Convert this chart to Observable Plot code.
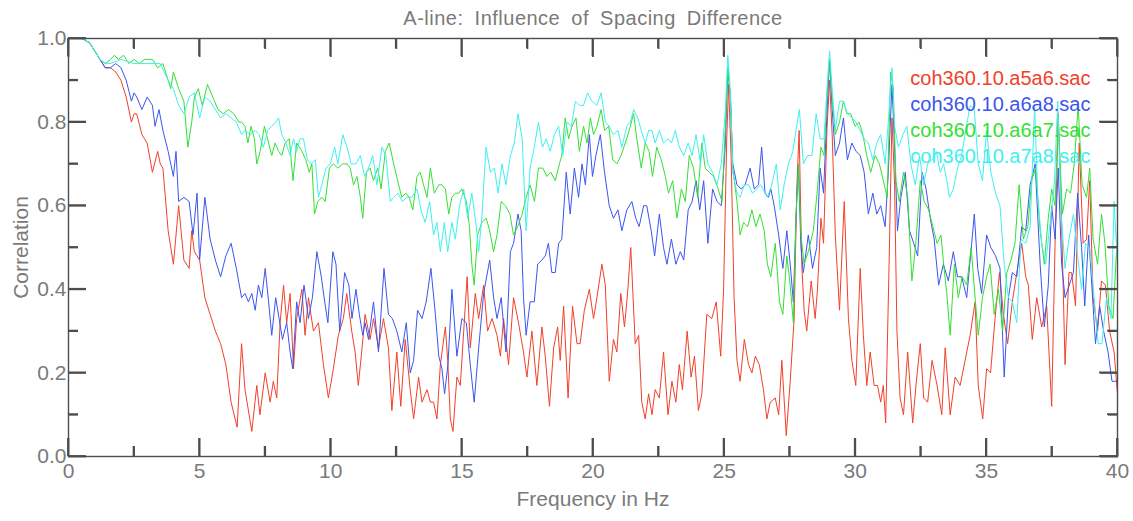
<!DOCTYPE html>
<html><head><meta charset="utf-8">
<script src="https://cdn.jsdelivr.net/npm/d3@7"></script>
<script src="https://cdn.jsdelivr.net/npm/@observablehq/plot@0.6"></script>
<style>body{margin:0;background:#fff}#chart{width:1133px;height:521px}</style>
</head><body><div id="chart"></div>
<script>
const title = "A-line: Influence of Spacing Difference";
const xLabel = "Frequency in Hz";
const yLabel = "Correlation";
const seriesNames = ["coh360.10.a5a6.sac", "coh360.10.a6a8.sac", "coh360.10.a6a7.sac", "coh360.10.a7a8.sac"];
const seriesColors = ["#f2402a", "#3a55f0", "#33e033", "#3ff0f0"];
const xTicksMajor = [0, 5, 10, 15, 20, 25, 30, 35, 40];
const xTicksMinor = [2.5, 7.5, 12.5, 17.5, 22.5, 27.5, 32.5, 37.5];
const yTicksMajor = [0, 0.2, 0.4, 0.6, 0.8, 1.0];
const yTicksMinor = [0.1, 0.3, 0.5, 0.7, 0.9];

const a5a6F = [0,0.5,0.8,1.0,1.2,1.4,1.6,1.8,2.0,2.2,2.4,2.5,2.6,2.8,3.0,3.2,3.4,3.5,3.6,3.8,4.0,4.2,4.4,4.6,4.7,4.8,5.0,5.2,5.4,5.6,5.8,6.0,6.2,6.43,6.6,6.73,6.99,7.18,7.3,7.5,7.69,7.81,7.94,8.07,8.2,8.32,8.45,8.58,8.7,8.9,9.02,9.15,9.34,9.53,9.72,9.91,10.1,10.29,10.48,10.61,10.8,10.93,11.05,11.18,11.31,11.5,11.63,11.82,12.01,12.2,12.33,12.52,12.67,12.84,13.03,13.16,13.35,13.48,13.67,13.8,13.92,14.05,14.18,14.37,14.46,14.56,14.66,14.81,14.94,15.07,15.2,15.32,15.51,15.64,15.83,15.98,16.15,16.34,16.47,16.59,16.78,16.97,17.16,17.35,17.48,17.67,17.86,18.05,18.18,18.34,18.5,18.65,18.75,18.88,19.05,19.22,19.39,19.51,19.67,19.86,20.02,20.15,20.34,20.47,20.62,20.78,20.91,21.06,21.2,21.33,21.44,21.61,21.74,21.86,21.99,22.12,22.25,22.37,22.53,22.69,22.86,23.01,23.16,23.29,23.41,23.59,23.74,23.87,24.02,24.15,24.34,24.53,24.7,24.87,24.98,25.1,25.17,25.27,25.38,25.49,25.61,25.77,25.93,26.06,26.19,26.34,26.5,26.63,26.76,26.95,27.08,27.2,27.37,27.52,27.67,27.77,27.86,27.96,28.05,28.15,28.32,28.47,28.56,28.69,28.79,28.92,29.02,29.12,29.24,29.4,29.58,29.74,29.87,30.02,30.19,30.31,30.44,30.57,30.72,30.85,30.97,31.07,31.16,31.29,31.4,31.5,31.59,31.71,31.84,32.0,32.19,32.33,32.48,32.61,32.76,32.93,33.12,33.3,33.43,33.62,33.81,34.0,34.19,34.38,34.57,34.69,34.86,35.01,35.16,35.33,35.5,35.65,35.81,35.99,36.16,36.35,36.5,36.6,36.75,36.92,37.11,37.3,37.49,37.62,37.74,37.85,38.0,38.15,38.25,38.4,38.54,38.69,38.82,38.94,39.07,39.24,39.39,39.54,39.7,39.87,40.0];
const a5a6V = [1.0,1.0,0.99,0.97,0.95,0.93,0.93,0.92,0.90,0.86,0.80,0.82,0.82,0.77,0.75,0.68,0.73,0.70,0.69,0.54,0.46,0.60,0.47,0.45,0.54,0.49,0.47,0.38,0.34,0.30,0.27,0.22,0.13,0.07,0.27,0.16,0.06,0.17,0.10,0.20,0.13,0.18,0.14,0.32,0.41,0.32,0.39,0.21,0.33,0.40,0.29,0.38,0.30,0.32,0.22,0.14,0.21,0.29,0.33,0.39,0.30,0.25,0.17,0.25,0.34,0.28,0.33,0.26,0.33,0.26,0.11,0.25,0.12,0.28,0.16,0.09,0.19,0.13,0.16,0.13,0.13,0.09,0.22,0.31,0.23,0.09,0.06,0.19,0.17,0.30,0.43,0.26,0.39,0.33,0.41,0.30,0.33,0.29,0.24,0.33,0.22,0.38,0.32,0.25,0.19,0.30,0.17,0.31,0.24,0.12,0.26,0.31,0.23,0.36,0.14,0.36,0.27,0.27,0.35,0.40,0.33,0.38,0.46,0.41,0.18,0.28,0.25,0.39,0.31,0.40,0.50,0.27,0.29,0.13,0.09,0.15,0.10,0.16,0.14,0.25,0.10,0.18,0.13,0.22,0.16,0.30,0.19,0.24,0.11,0.15,0.34,0.33,0.37,0.24,0.40,0.76,0.89,0.71,0.38,0.23,0.18,0.28,0.22,0.20,0.24,0.22,0.16,0.09,0.13,0.14,0.10,0.23,0.05,0.18,0.33,0.64,0.78,0.46,0.35,0.30,0.42,0.33,0.40,0.57,0.51,0.78,0.90,0.77,0.53,0.35,0.61,0.33,0.23,0.17,0.45,0.29,0.17,0.25,0.17,0.17,0.13,0.17,0.08,0.46,0.81,0.65,0.30,0.14,0.10,0.25,0.08,0.18,0.27,0.14,0.13,0.23,0.17,0.10,0.26,0.10,0.19,0.17,0.23,0.29,0.37,0.17,0.09,0.21,0.20,0.33,0.44,0.34,0.27,0.37,0.44,0.51,0.43,0.41,0.28,0.38,0.31,0.36,0.12,0.51,0.82,0.61,0.22,0.44,0.44,0.36,0.75,0.51,0.52,0.66,0.38,0.30,0.42,0.41,0.30,0.25,0.15];

const a6a8F = [0,0.5,0.8,1.0,1.2,1.4,1.6,1.8,2.0,2.2,2.4,2.5,2.6,2.8,3.0,3.2,3.3,3.45,3.6,3.8,4.0,4.1,4.2,4.4,4.6,4.75,4.9,5.0,5.2,5.4,5.6,5.8,6.0,6.2,6.4,6.6,6.73,6.86,6.99,7.12,7.24,7.37,7.5,7.63,7.75,7.9,8.03,8.16,8.32,8.45,8.55,8.7,8.83,8.98,9.15,9.3,9.47,9.64,9.77,9.89,10.08,10.2,10.34,10.53,10.69,10.81,10.96,11.09,11.22,11.31,11.44,11.63,11.82,12.03,12.2,12.35,12.52,12.71,12.88,13.03,13.16,13.31,13.48,13.64,13.82,13.99,14.12,14.24,14.34,14.47,14.62,14.81,15.0,15.17,15.32,15.47,15.64,15.83,16.06,16.21,16.34,16.5,16.68,16.85,16.97,17.14,17.26,17.35,17.45,17.6,17.76,17.89,18.05,18.18,18.3,18.43,18.56,18.69,18.81,18.98,19.13,19.29,19.45,19.58,19.71,19.86,19.98,20.11,20.28,20.44,20.62,20.78,20.95,21.1,21.29,21.48,21.63,21.76,21.93,22.05,22.22,22.35,22.53,22.69,22.82,22.99,23.16,23.33,23.46,23.63,23.78,23.93,24.07,24.22,24.38,24.56,24.73,24.89,25.04,25.14,25.24,25.33,25.49,25.65,25.8,25.99,26.15,26.31,26.43,26.56,26.69,26.78,26.91,27.08,27.24,27.39,27.52,27.64,27.74,27.83,27.93,28.02,28.21,28.37,28.53,28.66,28.79,28.92,29.02,29.12,29.24,29.4,29.55,29.7,29.87,30.03,30.19,30.34,30.5,30.67,30.82,30.97,31.14,31.26,31.4,31.5,31.61,31.74,31.91,32.07,32.23,32.38,32.55,32.7,32.86,33.01,33.18,33.36,33.55,33.74,33.9,34.06,34.25,34.44,34.54,34.67,34.82,35.01,35.17,35.35,35.52,35.68,35.84,35.99,36.16,36.35,36.5,36.67,36.86,37.05,37.21,37.36,37.49,37.62,37.74,37.87,38.0,38.16,38.32,38.48,38.63,38.75,38.9,39.03,39.16,39.32,39.47,39.64,39.79,40.0];
const a6a8V = [1.0,1.0,0.99,0.97,0.95,0.93,0.93,0.94,0.93,0.90,0.85,0.87,0.86,0.83,0.86,0.84,0.79,0.83,0.78,0.73,0.67,0.73,0.61,0.62,0.61,0.53,0.63,0.47,0.62,0.52,0.47,0.43,0.48,0.51,0.45,0.38,0.39,0.37,0.39,0.35,0.41,0.38,0.45,0.37,0.29,0.38,0.33,0.28,0.32,0.25,0.21,0.37,0.32,0.41,0.33,0.38,0.49,0.43,0.37,0.32,0.49,0.46,0.30,0.44,0.41,0.33,0.40,0.34,0.29,0.32,0.28,0.37,0.25,0.45,0.34,0.33,0.30,0.25,0.32,0.20,0.23,0.35,0.33,0.37,0.45,0.34,0.24,0.21,0.15,0.22,0.40,0.24,0.33,0.32,0.22,0.13,0.26,0.39,0.47,0.38,0.33,0.38,0.25,0.49,0.51,0.58,0.54,0.38,0.29,0.37,0.37,0.46,0.47,0.48,0.51,0.44,0.44,0.51,0.52,0.68,0.58,0.69,0.62,0.70,0.65,0.77,0.67,0.72,0.77,0.68,0.60,0.57,0.59,0.54,0.59,0.61,0.57,0.55,0.60,0.60,0.54,0.48,0.58,0.50,0.46,0.52,0.46,0.49,0.47,0.59,0.61,0.66,0.59,0.66,0.51,0.64,0.61,0.60,0.74,0.93,0.86,0.70,0.65,0.64,0.65,0.69,0.64,0.65,0.74,0.63,0.62,0.64,0.60,0.53,0.45,0.54,0.46,0.37,0.57,0.70,0.50,0.44,0.53,0.45,0.50,0.69,0.63,0.82,0.95,0.83,0.72,0.75,0.81,0.71,0.75,0.73,0.72,0.68,0.58,0.63,0.58,0.60,0.55,0.68,0.89,0.74,0.54,0.62,0.68,0.54,0.51,0.48,0.68,0.64,0.57,0.52,0.41,0.46,0.42,0.49,0.43,0.43,0.38,0.51,0.58,0.45,0.39,0.53,0.50,0.48,0.45,0.19,0.38,0.44,0.43,0.55,0.54,0.65,0.70,0.46,0.31,0.41,0.60,0.52,0.69,0.46,0.38,0.41,0.44,0.63,0.50,0.36,0.53,0.40,0.27,0.36,0.30,0.25,0.18,0.18];

const a6a7F = [0,0.5,0.8,1.0,1.2,1.4,1.6,1.75,1.9,2.1,2.3,2.5,2.7,2.9,3.1,3.2,3.4,3.6,3.8,3.9,4.0,4.2,4.4,4.55,4.7,4.8,4.95,5.1,5.3,5.5,5.7,5.9,6.1,6.3,6.5,6.6,6.73,6.84,6.96,7.09,7.18,7.31,7.47,7.63,7.75,7.88,8.01,8.13,8.26,8.42,8.56,8.7,8.9,9.05,9.18,9.28,9.38,9.51,9.66,9.79,9.95,10.1,10.27,10.45,10.62,10.74,10.87,11.0,11.13,11.22,11.36,11.5,11.63,11.79,11.92,12.08,12.23,12.4,12.55,12.71,12.86,12.99,13.13,13.29,13.41,13.54,13.67,13.8,13.95,14.12,14.24,14.37,14.5,14.62,14.75,14.88,15.0,15.17,15.29,15.38,15.47,15.6,15.76,15.93,16.06,16.21,16.34,16.5,16.66,16.83,16.97,17.13,17.3,17.45,17.6,17.77,17.92,18.09,18.24,18.39,18.56,18.72,18.81,18.94,19.07,19.2,19.35,19.48,19.64,19.77,19.9,20.02,20.15,20.31,20.44,20.6,20.75,20.91,21.07,21.23,21.38,21.55,21.67,21.84,21.99,22.14,22.27,22.43,22.6,22.76,22.88,23.04,23.2,23.37,23.52,23.67,23.83,23.99,24.15,24.28,24.43,24.6,24.77,24.92,25.04,25.14,25.24,25.33,25.49,25.61,25.74,25.9,26.06,26.21,26.37,26.53,26.65,26.78,26.95,27.11,27.24,27.39,27.52,27.64,27.74,27.83,27.93,28.05,28.21,28.4,28.56,28.69,28.81,28.92,29.02,29.12,29.24,29.4,29.55,29.68,29.83,29.99,30.15,30.29,30.44,30.59,30.76,30.92,31.07,31.22,31.35,31.45,31.55,31.68,31.84,32.0,32.16,32.31,32.48,32.63,32.8,32.96,33.12,33.27,33.37,33.49,33.62,33.78,33.93,34.08,34.25,34.42,34.57,34.69,34.85,35.01,35.14,35.3,35.46,35.62,35.78,35.94,36.09,36.25,36.41,36.58,36.73,36.88,37.05,37.21,37.36,37.49,37.62,37.74,37.9,38.06,38.21,38.35,38.5,38.65,38.82,38.94,39.07,39.24,39.39,39.52,39.67,39.83,40.0];
const a6a7V = [1.0,1.0,0.99,0.97,0.95,0.94,0.95,0.96,0.95,0.96,0.94,0.95,0.94,0.95,0.95,0.95,0.93,0.94,0.90,0.88,0.92,0.88,0.85,0.74,0.80,0.86,0.88,0.84,0.89,0.86,0.83,0.82,0.83,0.82,0.80,0.80,0.79,0.75,0.79,0.76,0.70,0.73,0.79,0.75,0.72,0.75,0.73,0.72,0.75,0.76,0.66,0.75,0.73,0.71,0.68,0.70,0.58,0.61,0.62,0.61,0.69,0.70,0.69,0.70,0.70,0.69,0.65,0.67,0.62,0.57,0.68,0.69,0.66,0.69,0.64,0.73,0.75,0.70,0.66,0.62,0.63,0.62,0.59,0.67,0.68,0.65,0.62,0.69,0.63,0.65,0.65,0.64,0.58,0.62,0.63,0.63,0.64,0.61,0.55,0.46,0.41,0.53,0.56,0.57,0.54,0.49,0.53,0.61,0.60,0.58,0.53,0.55,0.58,0.62,0.65,0.61,0.69,0.69,0.67,0.68,0.66,0.70,0.72,0.81,0.76,0.79,0.81,0.73,0.79,0.75,0.81,0.77,0.79,0.83,0.78,0.79,0.71,0.70,0.72,0.75,0.78,0.82,0.76,0.69,0.75,0.73,0.67,0.74,0.71,0.67,0.63,0.66,0.57,0.64,0.61,0.72,0.69,0.62,0.75,0.69,0.68,0.67,0.64,0.61,0.78,0.93,0.86,0.69,0.61,0.53,0.56,0.55,0.59,0.55,0.58,0.54,0.46,0.43,0.51,0.37,0.34,0.48,0.41,0.32,0.57,0.70,0.53,0.46,0.49,0.54,0.64,0.74,0.72,0.86,0.95,0.86,0.77,0.80,0.85,0.82,0.82,0.79,0.80,0.77,0.72,0.68,0.72,0.70,0.66,0.62,0.92,0.88,0.66,0.61,0.68,0.62,0.42,0.51,0.66,0.61,0.59,0.55,0.51,0.53,0.46,0.39,0.29,0.46,0.38,0.43,0.41,0.50,0.38,0.29,0.38,0.43,0.46,0.34,0.40,0.30,0.44,0.47,0.51,0.65,0.52,0.55,0.66,0.69,0.54,0.46,0.57,0.64,0.60,0.81,0.58,0.64,0.63,0.70,0.84,0.65,0.62,0.69,0.52,0.46,0.58,0.51,0.36,0.33,0.54];

const a7a8F = [0,0.5,0.8,1.0,1.2,1.4,1.6,2.0,2.5,3.0,3.5,3.8,4.0,4.2,4.4,4.6,4.8,5.0,5.2,5.4,5.6,5.8,6.0,6.2,6.4,6.6,6.73,6.93,7.12,7.27,7.43,7.6,7.75,7.9,8.01,8.13,8.29,8.45,8.58,8.7,8.83,8.96,9.11,9.25,9.41,9.53,9.66,9.82,9.98,10.15,10.27,10.46,10.62,10.78,10.96,11.13,11.29,11.44,11.6,11.76,11.95,12.1,12.27,12.4,12.56,12.73,12.9,13.09,13.29,13.44,13.6,13.77,13.92,14.05,14.18,14.33,14.46,14.62,14.75,14.91,15.07,15.22,15.38,15.55,15.64,15.76,15.92,16.09,16.24,16.38,16.53,16.68,16.85,17.0,17.14,17.3,17.45,17.6,17.76,17.92,18.07,18.22,18.37,18.53,18.69,18.85,19.01,19.17,19.33,19.49,19.64,19.79,19.96,20.15,20.31,20.47,20.62,20.78,20.95,21.1,21.29,21.42,21.55,21.71,21.84,21.99,22.12,22.25,22.37,22.53,22.69,22.86,22.99,23.14,23.29,23.46,23.63,23.78,23.93,24.1,24.22,24.38,24.56,24.73,24.89,25.04,25.14,25.24,25.33,25.49,25.61,25.77,25.93,26.08,26.24,26.4,26.56,26.65,26.82,26.99,27.14,27.29,27.45,27.62,27.74,27.87,28.02,28.18,28.35,28.51,28.66,28.81,28.92,29.02,29.12,29.24,29.4,29.55,29.7,29.87,30.03,30.19,30.34,30.5,30.67,30.82,30.97,31.14,31.26,31.4,31.5,31.65,31.82,31.97,32.12,32.29,32.45,32.61,32.76,32.93,33.09,33.24,33.37,33.49,33.59,33.74,33.9,34.06,34.21,34.38,34.54,34.69,34.85,35.01,35.17,35.35,35.52,35.68,35.84,35.99,36.16,36.32,36.5,36.67,36.84,36.96,37.11,37.26,37.43,37.59,37.72,37.85,38.0,38.15,38.32,38.48,38.63,38.78,38.94,39.11,39.26,39.41,39.58,39.75,39.87,40.0];
const a7a8V = [1.0,1.0,0.99,0.97,0.95,0.94,0.94,0.95,0.94,0.94,0.94,0.90,0.88,0.84,0.82,0.86,0.87,0.81,0.86,0.85,0.83,0.81,0.82,0.81,0.80,0.77,0.78,0.77,0.78,0.77,0.74,0.78,0.79,0.80,0.81,0.77,0.75,0.72,0.76,0.73,0.76,0.76,0.71,0.70,0.71,0.62,0.65,0.69,0.70,0.74,0.70,0.77,0.74,0.70,0.70,0.72,0.67,0.69,0.72,0.65,0.74,0.72,0.61,0.62,0.63,0.61,0.62,0.62,0.64,0.59,0.56,0.61,0.53,0.56,0.49,0.56,0.49,0.56,0.52,0.60,0.64,0.57,0.63,0.55,0.49,0.57,0.74,0.68,0.69,0.63,0.70,0.65,0.72,0.75,0.82,0.76,0.54,0.69,0.74,0.80,0.74,0.76,0.73,0.77,0.79,0.72,0.80,0.79,0.85,0.84,0.84,0.87,0.85,0.84,0.87,0.80,0.79,0.77,0.78,0.74,0.79,0.80,0.83,0.81,0.78,0.75,0.78,0.78,0.75,0.78,0.75,0.76,0.75,0.78,0.74,0.72,0.75,0.72,0.77,0.70,0.77,0.70,0.68,0.65,0.70,0.82,0.96,0.87,0.68,0.63,0.62,0.65,0.65,0.63,0.64,0.65,0.63,0.62,0.65,0.70,0.59,0.65,0.70,0.73,0.78,0.83,0.70,0.72,0.72,0.82,0.76,0.76,0.88,0.97,0.88,0.78,0.85,0.85,0.82,0.81,0.80,0.78,0.76,0.75,0.71,0.75,0.77,0.70,0.80,0.93,0.79,0.74,0.77,0.79,0.70,0.65,0.72,0.65,0.70,0.71,0.73,0.68,0.70,0.66,0.62,0.64,0.69,0.72,0.78,0.84,0.83,0.70,0.66,0.78,0.68,0.63,0.60,0.46,0.38,0.37,0.32,0.52,0.51,0.55,0.84,0.62,0.51,0.46,0.56,0.65,0.85,0.58,0.45,0.52,0.58,0.48,0.40,0.51,0.50,0.38,0.27,0.27,0.38,0.33,0.61,0.46];

const seriesF = [a5a6F, a6a8F, a6a7F, a7a8F];
const seriesV = [a5a6V, a6a8V, a6a7V, a7a8V];
const tables = seriesF.map((fs, s) => fs.map((f, i) => ({f, v: seriesV[s][i], name: seriesNames[s]})));

const W = 1133, H = 521, mL = 68, mR = 16, mT = 38, mB = 65;
const majorLen = 18, minorLen = 10;
const axisColor = "#4d4d4d", textColor = "#7a7a7a";
const font = "Liberation Sans, Arial, sans-serif";
const noText = () => "";

// inward-pointing tick marks on all four sides (SAC style)
const tickAxes = [];
for (const anchor of ["bottom", "top"]) {
  tickAxes.push(Plot.axisX({anchor, ticks: xTicksMajor, tickSize: -majorLen, tickFormat: noText, stroke: axisColor, strokeWidth: 1.8, label: null}));
  tickAxes.push(Plot.axisX({anchor, ticks: xTicksMinor, tickSize: -minorLen, tickFormat: noText, stroke: axisColor, strokeWidth: 1.8, label: null}));
}
for (const anchor of ["left", "right"]) {
  tickAxes.push(Plot.axisY({anchor, ticks: yTicksMajor, tickSize: -majorLen, tickFormat: noText, stroke: axisColor, strokeWidth: 1.8, label: null}));
  tickAxes.push(Plot.axisY({anchor, ticks: yTicksMinor, tickSize: -minorLen, tickFormat: noText, stroke: axisColor, strokeWidth: 1.8, label: null}));
}

const chart = Plot.plot({
  width: W, height: H,
  marginLeft: mL, marginRight: mR, marginTop: mT, marginBottom: mB,
  style: {fontFamily: font, fontSize: "20px", background: "#fff", overflow: "visible"},
  x: {domain: [0, 40], label: null},
  y: {domain: [0, 1], label: null},
  marks: [
    ...tables.map((t, s) => Plot.line(t, {x: "f", y: "v", stroke: seriesColors[s], strokeWidth: 1, curve: "linear"})),
    Plot.frame({stroke: axisColor, strokeWidth: 1.4}),
    ...tickAxes,
    Plot.axisX({ticks: xTicksMajor, tickSize: 0, tickPadding: 7, tickFormat: d => String(d), fill: textColor, fontSize: 21, label: null}),
    Plot.axisY({ticks: yTicksMajor, tickSize: 0, tickPadding: 2, tickFormat: d3.format(".1f"), fill: textColor, fontSize: 21, label: null}),
    Plot.text([title], {text: d => d, frameAnchor: "top", dy: -20, lineAnchor: "middle", textAnchor: "middle", fill: textColor, fontSize: 20}),
    Plot.text([xLabel], {text: d => d, frameAnchor: "bottom", dy: 43, lineAnchor: "middle", textAnchor: "middle", fill: textColor, fontSize: 21}),
    Plot.text([yLabel], {text: d => d, frameAnchor: "left", dx: -47, lineAnchor: "middle", textAnchor: "middle", rotate: -90, fill: textColor, fontSize: 21}),
    ...seriesNames.map((n, i) => Plot.text([n], {text: d => d, frameAnchor: "top-right", dx: -27, dy: 40 + i * 26, lineAnchor: "middle", textAnchor: "end", fill: seriesColors[i], fontSize: 20}))
  ]
});

// Backup inward ticks drawn through Plot's own scales, in case the axis ticks are not shown
const sx = chart.scale("x"), sy = chart.scale("y");
const x0 = sx.apply(0), x1 = sx.apply(40), y0 = sy.apply(0), y1 = sy.apply(1);
const g = d3.select(chart).append("g").attr("stroke", axisColor).attr("stroke-width", 1.8);
for (const [list, len] of [[xTicksMajor, majorLen], [xTicksMinor, minorLen]]) {
  for (const v of list) {
    const px = sx.apply(v);
    g.append("line").attr("x1", px).attr("x2", px).attr("y1", y0).attr("y2", y0 - len);
    g.append("line").attr("x1", px).attr("x2", px).attr("y1", y1).attr("y2", y1 + len);
  }
}
for (const [list, len] of [[yTicksMajor, majorLen], [yTicksMinor, minorLen]]) {
  for (const v of list) {
    const py = sy.apply(v);
    g.append("line").attr("x1", x0).attr("x2", x0 + len).attr("y1", py).attr("y2", py);
    g.append("line").attr("x1", x1).attr("x2", x1 - len).attr("y1", py).attr("y2", py);
  }
}

// wider spacing like the original plotter font
d3.select(chart).selectAll("text").filter(function() { return this.textContent === title; })
  .style("word-spacing", "5px").style("letter-spacing", "0.5px");
document.getElementById("chart").appendChild(chart);
</script>
</body></html>
